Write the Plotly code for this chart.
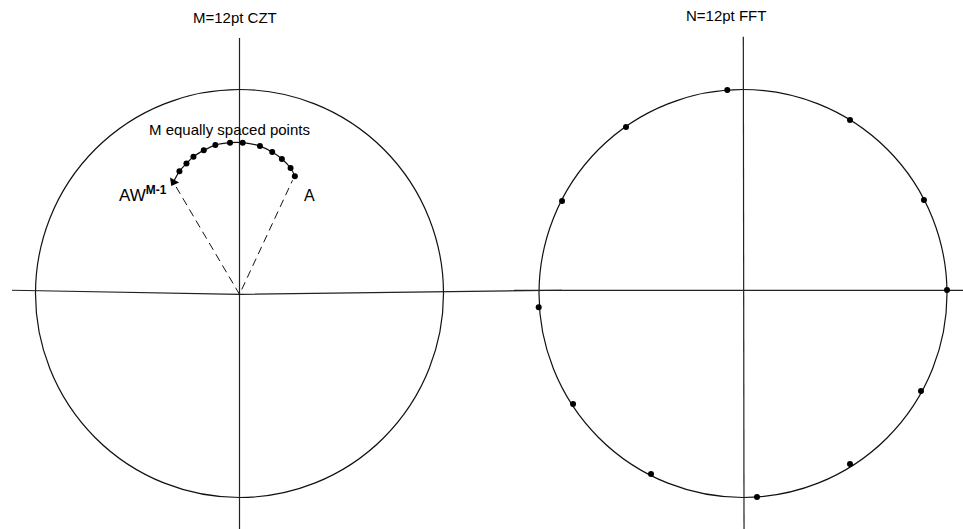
import math
import plotly.graph_objects as go

# ---- data (unit-circle coordinates, radius = 1) ----
# chirp-z contour samples: M = 12 points on an arc inside the unit circle
czt_re = [0.2714, 0.2504, 0.2078, 0.1604, 0.1002, 0.0156,
          -0.0465, -0.1183, -0.1751, -0.2259, -0.2601, -0.2944]
czt_im = [0.5746, 0.6152, 0.6592, 0.6934, 0.7227, 0.7394,
          0.7394, 0.7276, 0.7017, 0.6709, 0.6367, 0.5990]
# end of the contour arrow (towards AW^(M-1))
czt_tip = (-0.3237, 0.5467)
# rays from the origin to the contour end points
ray_a = (0.260, 0.555)
ray_aw = (-0.3105, 0.5222)

# N = 12 point FFT samples on the unit circle
fft_re = [1.000, 0.887, 0.5245, -0.077, -0.5735, -0.887,
          -1.0015, -0.833, -0.451, 0.0686, 0.5245, 0.8725]
fft_im = [0.017, 0.458, 0.8505, 0.9975, 0.816, 0.453,
          -0.0676, -0.542, -0.885, -0.9975, -0.836, -0.478]

titles = ["M=12pt CZT", "N=12pt FFT"]
RADIUS = 1.0

# ---- page geometry ----
W, H = 963, 529
S = 204.0                      # pixels per unit
CY = 293.5                     # vertical centre of both diagrams (px from top)
LCX, RCX = 239.5, 743.0        # horizontal centres (px from left)
L_DOM = (0, 562)
R_DOM = (514, 963)

ink = "#111111"
axis_ink = "#222222"

fig = go.Figure()

def yr():
    return [-(H - CY) / S, CY / S]

# ----- left diagram: CZT -----
# real axis (slightly bent at the origin, as drawn)
fig.add_trace(go.Scatter(x=[-(LCX - 12) / S, 0, (L_DOM[1] - LCX) / S],
                         y=[0.016, -0.004, 0.016], mode="lines",
                         line=dict(color=axis_ink, width=1.2),
                         xaxis="x", yaxis="y", hoverinfo="skip"))
# imaginary axis
fig.add_trace(go.Scatter(x=[0, 0], y=[(CY - 38) / S, -(H - CY) / S], mode="lines",
                         line=dict(color=axis_ink, width=1.2),
                         xaxis="x", yaxis="y", hoverinfo="skip"))
# dashed rays
fig.add_trace(go.Scatter(x=[ray_aw[0], 0, ray_a[0]], y=[ray_aw[1], -0.004, ray_a[1]],
                         mode="lines", line=dict(color=ink, width=1, dash="8px,5px"),
                         xaxis="x", yaxis="y", hoverinfo="skip"))
# contour arc through the samples
fig.add_trace(go.Scatter(x=czt_re + [czt_tip[0]], y=czt_im + [czt_tip[1]],
                         mode="lines", line=dict(color=ink, width=1.2, shape="spline"),
                         xaxis="x", yaxis="y", hoverinfo="skip"))
fig.add_trace(go.Scatter(x=czt_re, y=czt_im, mode="markers",
                         marker=dict(color="black", size=6),
                         xaxis="x", yaxis="y", hoverinfo="skip"))
# arrow head at the end of the contour, pointing along its last segment
heading = math.degrees(math.atan2(czt_tip[0] - czt_re[-1], czt_tip[1] - czt_im[-1]))
fig.add_trace(go.Scatter(x=[czt_tip[0]], y=[czt_tip[1]], mode="markers",
                         marker=dict(symbol="triangle-up", size=9, color="black",
                                     angle=heading),
                         xaxis="x", yaxis="y", hoverinfo="skip"))

# ----- right diagram: FFT -----
fig.add_trace(go.Scatter(x=[-(RCX - R_DOM[0]) / S, (W - RCX) / S], y=[0.015, 0.015],
                         mode="lines", line=dict(color=axis_ink, width=1.2),
                         xaxis="x2", yaxis="y2", hoverinfo="skip"))
fig.add_trace(go.Scatter(x=[0.0015, 0.005], y=[(CY - 36.7) / S, -(H - CY) / S],
                         mode="lines", line=dict(color=axis_ink, width=1.2),
                         xaxis="x2", yaxis="y2", hoverinfo="skip"))
fig.add_trace(go.Scatter(x=fft_re, y=fft_im, mode="markers",
                         marker=dict(color="black", size=6),
                         xaxis="x2", yaxis="y2", hoverinfo="skip"))

# unit circles
for xr, yref in (("x", "y"), ("x2", "y2")):
    fig.add_shape(type="circle", xref=xr, yref=yref,
                  x0=-RADIUS, x1=RADIUS, y0=-RADIUS, y1=RADIUS,
                  line=dict(color=ink, width=1.2), layer="below")

font = "Liberation Sans, Arial, sans-serif"
fig.add_annotation(x=-0.022, y=(CY - 17.5) / S, xref="x", yref="y", text=titles[0],
                   showarrow=False, font=dict(family=font, size=15, color="black"))
fig.add_annotation(x=-0.081, y=(CY - 15.5) / S, xref="x2", yref="y2", text=titles[1],
                   showarrow=False, font=dict(family=font, size=15, color="black"))
fig.add_annotation(x=-0.0466, y=0.8015, xref="x", yref="y", text="M equally spaced points",
                   showarrow=False, font=dict(family=font, size=15, color="black"))
fig.add_annotation(x=0.341, y=0.478, xref="x", yref="y", text="A",
                   showarrow=False, font=dict(family=font, size=16, color="black"))
fig.add_annotation(x=(169 - LCX) / S, y=0.488, xref="x", yref="y",
                   text="AW<sup><b>M-1</b></sup>", xanchor="right", yanchor="middle",
                   showarrow=False, font=dict(family=font, size=17, color="black"))

ax_common = dict(visible=False, showgrid=False, zeroline=False, fixedrange=True)
fig.update_layout(
    width=W, height=H, margin=dict(l=0, r=0, t=0, b=0),
    paper_bgcolor="white", plot_bgcolor="rgba(0,0,0,0)", showlegend=False,
    xaxis=dict(domain=[L_DOM[0] / W, L_DOM[1] / W],
               range=[-(LCX - L_DOM[0]) / S, (L_DOM[1] - LCX) / S], anchor="y", **ax_common),
    yaxis=dict(domain=[0, 1], range=yr(), anchor="x", **ax_common),
    xaxis2=dict(domain=[R_DOM[0] / W, R_DOM[1] / W],
                range=[-(RCX - R_DOM[0]) / S, (R_DOM[1] - RCX) / S], anchor="y2", **ax_common),
    yaxis2=dict(domain=[0, 1], range=yr(), anchor="x2", **ax_common),
)

fig.write_html("out.html")
